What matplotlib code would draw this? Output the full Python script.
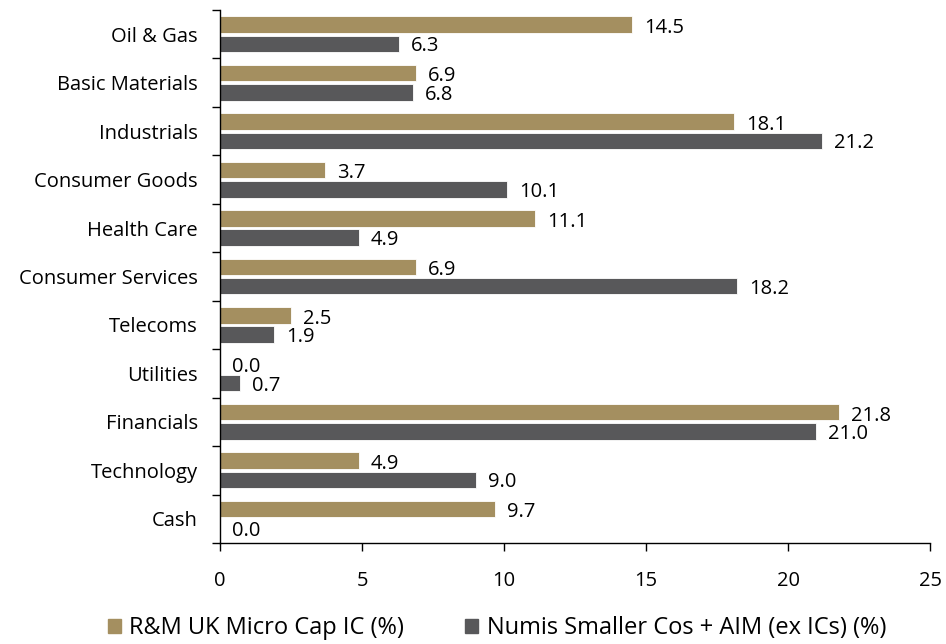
import matplotlib
matplotlib.use("Agg")
import matplotlib.pyplot as plt
import numpy as np
from matplotlib.patches import Patch

plt.rcParams["font.family"] = ["Open Sans", "DejaVu Sans"]

sectors = ["Oil & Gas", "Basic Materials", "Industrials", "Consumer Goods", "Health Care",
           "Consumer Services", "Telecoms", "Utilities", "Financials", "Technology", "Cash"]
micro_cap = [14.5, 6.9, 18.1, 3.7, 11.1, 6.9, 2.5, 0.0, 21.8, 4.9, 9.7]
numis = [6.3, 6.8, 21.2, 10.1, 4.9, 18.2, 1.9, 0.7, 21.0, 9.0, 0.0]
x_ticks = [0, 5, 10, 15, 20, 25]

GOLD = "#a48f60"
GREY = "#58585a"

fig = plt.figure(figsize=(9.46, 6.44), dpi=100)
ax = fig.add_axes([220 / 946, 1 - 543 / 644, 710 / 946, 533 / 644])

y = np.arange(len(sectors))
h = 0.34
off = 0.2
ax.barh(y - off, micro_cap, height=h, color=GOLD, edgecolor="white", linewidth=0.6)
ax.barh(y + off, numis, height=h, color=GREY, edgecolor="white", linewidth=0.6)

for yi, v in zip(y, micro_cap):
    ax.text(v + 0.42, yi - off + 0.07, f"{v:.1f}", va="center", ha="left", fontsize=14.5)
for yi, v in zip(y, numis):
    ax.text(v + 0.42, yi + off + 0.05, f"{v:.1f}", va="center", ha="left", fontsize=14.5)

ax.set_ylim(len(sectors) - 0.5, -0.5)
ax.set_xlim(0, 25)
ax.set_xticks(x_ticks)
ax.set_xticklabels([str(t) for t in x_ticks])

# category labels at centres, tick marks at the boundaries
ax.set_yticks(y)
ax.set_yticklabels(sectors)
ax.set_yticks(np.arange(len(sectors) + 1) - 0.5, minor=True)
ax.tick_params(axis="y", which="major", length=0, pad=16, labelsize=14.5)
ax.tick_params(axis="y", which="minor", length=6, width=1, color="black")
ax.tick_params(axis="x", length=6, width=1, pad=14, labelsize=14.5)

for s in ["top", "right"]:
    ax.spines[s].set_visible(False)
for s in ["left", "bottom"]:
    ax.spines[s].set_linewidth(1)

handles = [Patch(color=GOLD, label="R&M UK Micro Cap IC (%)"),
           Patch(color=GREY, label="Numis Smaller Cos + AIM (ex ICs) (%)")]
fig.legend(handles=handles, loc="center", bbox_to_anchor=(497 / 946, 1 - 628 / 644),
           ncol=2, frameon=False, fontsize=17, handlelength=0.55, handleheight=0.55,
           handletextpad=0.35, columnspacing=2.6)

fig.savefig("out.png", dpi=100)
